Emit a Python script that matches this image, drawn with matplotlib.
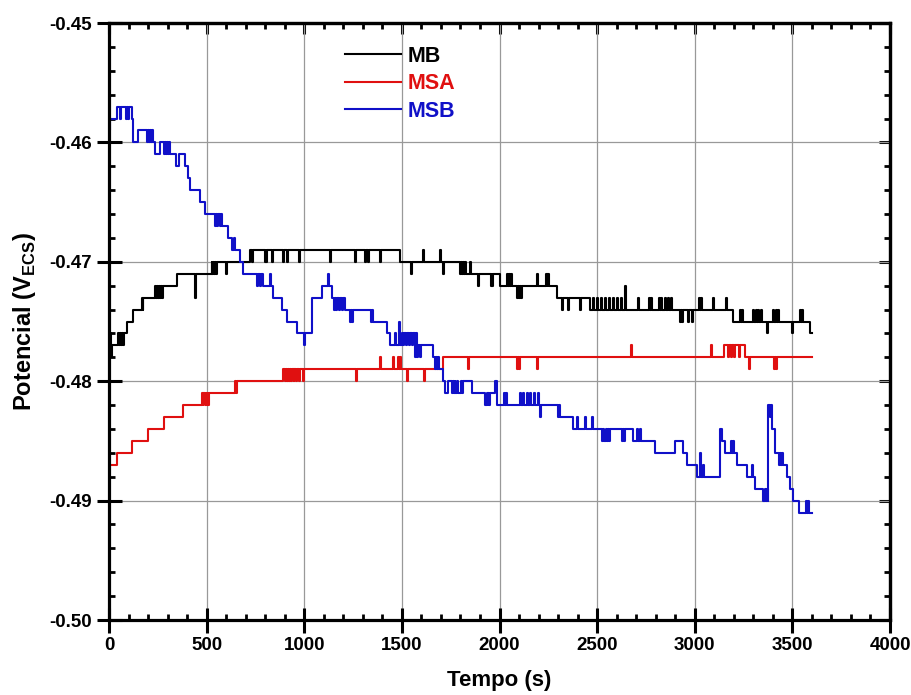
import matplotlib
matplotlib.use('Agg')
import matplotlib.pyplot as plt
import numpy as np
from matplotlib.ticker import MultipleLocator, FormatStrFormatter

# potentials in mV, step changes (time s, value) + short spikes/flicker
mb_t = [0, 14, 56, 91, 124, 176, 236, 347, 526, 722, 1490, 1798, 2003, 2293, 2463, 3196, 3590]
mb_v = [-478, -477, -476, -475, -474, -473, -472, -471, -470, -469, -470, -471, -472, -473, -474, -475, -476]
mb_spk_t = [5, 45, 62, 70, 168, 180, 240, 250, 262, 272, 440, 530, 540, 548, 599,
            731, 800, 806, 833, 890, 910, 973, 1132, 1260, 1311, 1328, 1388,
            1547, 1607, 1695, 1712, 1805, 1815, 1825, 1849, 1890, 1955, 1962,
            2040, 2050, 2060, 2090, 2100, 2110, 2190, 2236, 2244, 2250,
            2318, 2352, 2412, 2480, 2500, 2520, 2540, 2560, 2580, 2600, 2620, 2643,
            2710, 2765, 2776, 2815, 2828, 2850, 2862, 2878, 2924, 2935, 2967, 2984,
            3020, 3030, 3094, 3160, 3232, 3242, 3300, 3312, 3325, 3340, 3368,
            3403, 3415, 3428, 3496, 3540, 3550]
mb_spk_v = [-476, -476, -477, -477, -473, -473, -473, -473, -473, -473, -473, -471, -471, -471, -471,
            -470, -470, -470, -470, -470, -470, -470, -470, -470, -470, -470, -470,
            -471, -469, -469, -471, -470, -470, -470, -470, -472, -472, -472,
            -471, -471, -471, -473, -473, -473, -471, -471, -471, -471,
            -474, -474, -474, -473, -473, -473, -473, -473, -473, -473, -473, -472,
            -473, -473, -473, -473, -473, -473, -473, -473, -475, -475, -475, -475,
            -473, -473, -473, -473, -474, -474, -474, -474, -474, -474, -476,
            -474, -474, -474, -476, -474, -474]

msa_t = [0, 43, 116, 198, 282, 377, 487, 645, 893, 1710, 3150, 3257]
msa_v = [-487, -486, -485, -484, -483, -482, -481, -480, -479, -478, -477, -478]
msa_spk_t = [476, 482, 492, 500, 508, 650, 900, 910, 920, 930, 945, 960, 975, 995,
             1265, 1388, 1453, 1482, 1492, 1528, 1613, 1840, 2090, 2100, 2190,
             2675, 3083, 3170, 3185, 3200, 3225, 3278, 3408, 3416]
msa_spk_v = [-481, -481, -482, -482, -482, -481, -480, -480, -480, -480, -480, -480, -480, -480,
             -480, -478, -478, -478, -478, -480, -480, -479, -479, -479, -479,
             -477, -477, -478, -478, -478, -478, -479, -479, -479]

msb_t = [0, 5, 39, 116, 125, 150, 227, 236, 261, 312, 343, 360, 389, 406, 415, 466, 492,
         577, 611, 628, 671, 688, 790, 842, 884, 910, 962, 1038, 1089, 1140, 1209, 1354,
         1422, 1439, 1499, 1576, 1602, 1661, 1695, 1712, 1720, 1738, 1772, 1815, 1857,
         1926, 1952, 1977, 1985, 2046, 2300, 2375, 2523, 2566, 2685, 2796, 2899, 2941,
         2959, 3010, 3129, 3138, 3155, 3215, 3266, 3309, 3351, 3377, 3394, 3411, 3450,
         3471, 3488, 3505, 3535]
msb_v = [-459, -458, -457, -458, -460, -459, -460, -461, -460, -461, -462, -461, -462, -463, -464, -465, -466,
         -467, -468, -469, -470, -471, -472, -473, -474, -475, -476, -473, -472, -473, -474, -475,
         -476, -477, -476, -477, -477, -478, -479, -480, -481, -480, -481, -480, -481,
         -482, -481, -480, -482, -482, -483, -484, -485, -484, -485, -486, -485, -486,
         -487, -488, -484, -485, -486, -487, -488, -489, -490, -482, -484, -486, -487,
         -488, -489, -490, -491]
msb_spk_t = [58, 88, 95, 195, 205, 215, 280, 292, 304, 543, 555, 567, 638, 760, 772, 824,
             1000, 1123, 1150, 1165, 1180, 1195, 1232, 1245, 1340, 1465, 1487,
             1505, 1520, 1535, 1550, 1565, 1580, 1592, 1672, 1682, 1690,
             1757, 1765, 1782, 1802, 1935, 1943, 2022, 2032, 2105, 2120, 2142, 2154,
             2176, 2196, 2207, 2243, 2262, 2272, 2290, 2305, 2345, 2360,
             2397, 2440, 2475, 2530, 2545, 2558, 2628, 2636, 2705, 2718, 3027,
             3040, 3185, 3195, 3294, 3360, 3370, 3384, 3432, 3442, 3570, 3580]
msb_spk_v = [-458, -458, -458, -460, -460, -460, -461, -461, -461, -467, -467, -467, -468, -472, -472, -471,
             -477, -471, -474, -474, -474, -474, -475, -475, -475, -476, -475,
             -477, -477, -477, -477, -478, -478, -478, -479, -479, -479,
             -481, -481, -480, -480, -481, -481, -481, -481, -481, -481, -481, -481,
             -481, -481, -483, -482, -482, -482, -482, -482, -483, -483,
             -483, -483, -483, -484, -484, -484, -485, -485, -484, -484, -486,
             -487, -485, -485, -487, -489, -489, -483, -487, -487, -490, -490]

t_end = 3602


def series(bt, bv, st, sv, end, w=5):
    bt = np.array(bt)
    bv = np.array(bv)
    pts = {t: v for t, v in zip(bt, bv)}
    for t, v in zip(st, sv):
        back = bv[np.searchsorted(bt, t + w, side='right') - 1]
        pts.setdefault(t + w, back)
        pts[t] = v
    ts = sorted(pts)
    vs = [pts[t] for t in ts]
    ts.append(end)
    vs.append(vs[-1])
    return np.array(ts), np.array(vs) / 1000.0


plt.rcParams['font.family'] = ['Liberation Sans', 'DejaVu Sans']
plt.rcParams['font.weight'] = 'bold'
plt.rcParams['axes.unicode_minus'] = False
plt.rcParams['mathtext.fontset'] = 'custom'
plt.rcParams['mathtext.rm'] = 'Liberation Sans'

fig = plt.figure(figsize=(9.12, 6.95), dpi=100)
ax = fig.add_axes([0.1195, 0.1079, 0.8564, 0.859])

cols = ['#000000', '#e01010', '#1010c8']
for (bt, bv, st, sv), lab, c in zip(
        [(mb_t, mb_v, mb_spk_t, mb_spk_v),
         (msa_t, msa_v, msa_spk_t, msa_spk_v),
         (msb_t, msb_v, msb_spk_t, msb_spk_v)],
        ['MB', 'MSA', 'MSB'], cols):
    x, y = series(bt, bv, st, sv, t_end)
    ax.plot(x, y, drawstyle='steps-post', color=c, lw=1.5, label=lab)

ax.set_xlim(0, 4000)
ax.set_ylim(-0.50, -0.45)
ax.xaxis.set_major_locator(MultipleLocator(500))
ax.xaxis.set_minor_locator(MultipleLocator(100))
ax.yaxis.set_major_locator(MultipleLocator(0.01))
ax.yaxis.set_minor_locator(MultipleLocator(0.002))
ax.yaxis.set_major_formatter(FormatStrFormatter('%.2f'))
ax.grid(True, which='major', color='#999999', lw=0.9)
ax.set_axisbelow(True)
for s in ax.spines.values():
    s.set_linewidth(2.3)
ax.tick_params(which='major', direction='inout', length=18, width=2.2, labelsize=13.5, pad=3)
ax.tick_params(which='minor', direction='in', length=4, width=2)

top = ax.secondary_xaxis('top')
top.xaxis.set_major_locator(MultipleLocator(500))
top.xaxis.set_minor_locator(MultipleLocator(100))
top.tick_params(which='major', direction='in', length=8, width=2.2, labeltop=False)
top.tick_params(which='minor', direction='in', length=4, width=2)
top.spines['top'].set_linewidth(2.3)
right = ax.secondary_yaxis('right')
right.yaxis.set_major_locator(MultipleLocator(0.01))
right.yaxis.set_minor_locator(MultipleLocator(0.002))
right.tick_params(which='major', direction='in', length=8, width=2.2, labelright=False)
right.tick_params(which='minor', direction='in', length=4, width=2)
right.spines['right'].set_linewidth(2.3)

ax.set_xlabel('Tempo (s)', fontsize=16, fontweight='bold', labelpad=12)
ax.set_ylabel(r'Potencial (V$_{\mathrm{ECS}}$)', fontsize=17, fontweight='bold', labelpad=8)

leg = ax.legend(loc='upper left', bbox_to_anchor=(0.302, 0.962), frameon=False,
                fontsize=15.5, handlelength=2.6, handletextpad=0.3, labelspacing=0.3,
                borderpad=0, borderaxespad=0)
for txt, c in zip(leg.get_texts(), cols):
    txt.set_color(c)
    txt.set_fontweight('bold')

fig.savefig('out.png', dpi=100)
